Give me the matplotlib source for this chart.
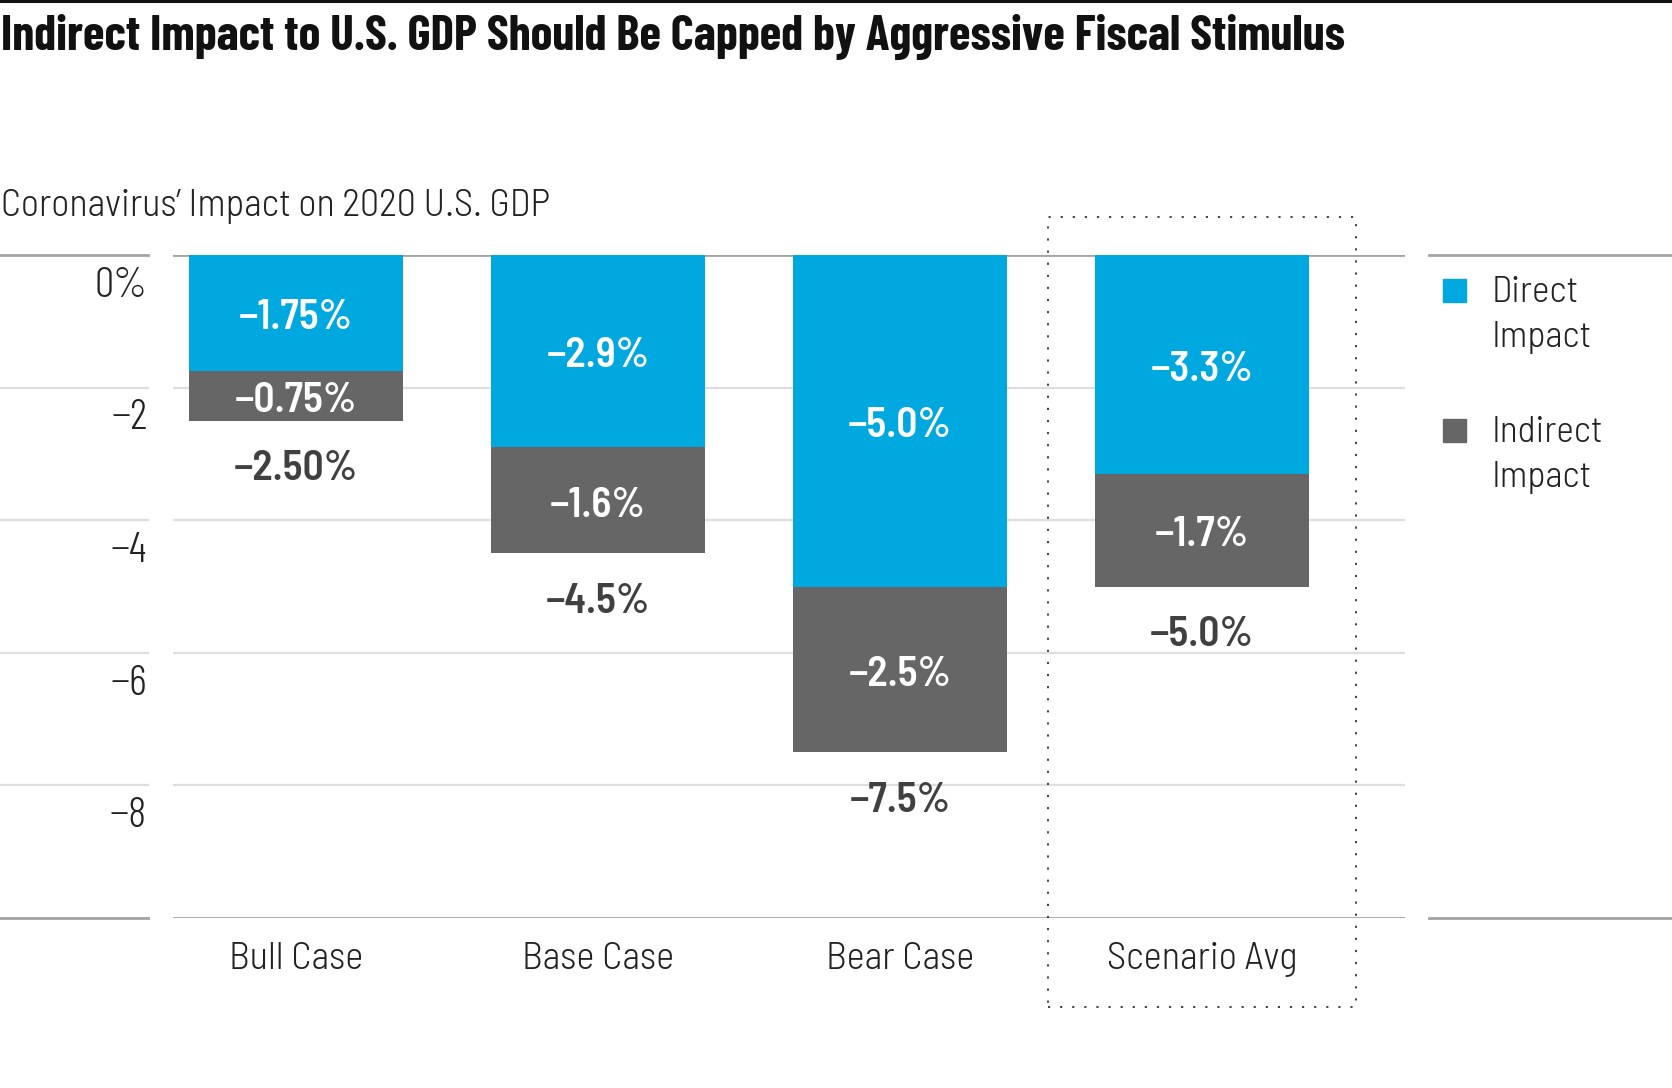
import matplotlib
matplotlib.use("Agg")
import matplotlib.pyplot as plt
from matplotlib.lines import Line2D
from matplotlib.patches import Rectangle

# data
categories = ["Bull Case", "Base Case", "Bear Case", "Scenario Avg"]
direct = [-1.75, -2.9, -5.0, -3.3]
indirect = [-0.75, -1.6, -2.5, -1.7]
totals = [-2.50, -4.5, -7.5, -5.0]
decimals = [2, 1, 1, 1]
y_ticks = [0, -2, -4, -6, -8]
y_tick_labels = ["0%", "\u22122", "\u22124", "\u22126", "\u22128"]
legend_labels = ["Direct\nImpact", "Indirect\nImpact"]

title = "Indirect Impact to U.S. GDP Should Be Capped by Aggressive Fiscal Stimulus"
subtitle = "Coronavirus\u2019 Impact on 2020 U.S. GDP"

BLUE = "#00a8e0"
GREY = "#666666"
GRID = "#dedede"
RULE = "#a3a3a3"
TEXT = "#222222"
TOTAL = "#404040"

COND = ["Barlow Condensed", "DejaVu Sans"]
SEMI = ["Barlow Semi Condensed", "Barlow Condensed", "DejaVu Sans"]
plt.rcParams["font.family"] = COND
LIGHT = 300

W, H = 1672, 1088
fig = plt.figure(figsize=(W / 100, H / 100), dpi=100)

# axes box in pixels: x 173..1405, y 255..918 (from top)
ax = fig.add_axes([173 / W, 1 - 918 / H, (1405 - 173) / W, (918 - 255) / H])
ax.set_xlim(-0.407, 3.672)
ax.set_ylim(-10, 0)
ax.axis("off")

x = range(len(categories))
ax.bar(x, direct, width=0.706, color=BLUE, zorder=3)
ax.bar(x, indirect, bottom=direct, width=0.706, color=GREY, zorder=3)

# grid lines, split into segments like the original
left_seg = (-0.1404, -0.0203)
legend_seg = (1.0195, 1.2167)
for v in y_ticks[1:]:
    ax.axhline(v, color=GRID, lw=1.6, zorder=1)
    ax.axhline(v, *left_seg, color=GRID, lw=1.6, clip_on=False, zorder=1)
for v in (0, -10):
    ax.axhline(v, color=RULE, lw=2.0, zorder=1)
    ax.axhline(v, *left_seg, color=RULE, lw=2.0, clip_on=False, zorder=1)
    ax.axhline(v, *legend_seg, color=RULE, lw=2.0, clip_on=False, zorder=1)

# y tick labels sit under their lines
ytrans = ax.get_yaxis_transform()
for v, lab in zip(y_ticks, y_tick_labels):
    ax.text(-0.0211, v - 0.63, lab, transform=ytrans, ha="right", va="baseline",
            fontsize=31, fontweight=LIGHT, color=TEXT)

# category labels
xtrans = ax.get_xaxis_transform()
for i, cat in enumerate(categories):
    ax.text(i, -0.077, cat, transform=xtrans, ha="center", va="baseline",
            fontsize=27.7, fontweight=LIGHT, family=SEMI, color=TEXT)

def fmt(v, d):
    return "\u2212" + f"{abs(v):.{d}f}%"

lab_kw = dict(ha="center", fontsize=30, fontweight="semibold", family=SEMI, zorder=4)
for i in x:
    d = decimals[i]
    ax.text(i, direct[i] / 2 - 0.08, fmt(direct[i], d), va="center",
            color="white", **lab_kw)
    ax.text(i, direct[i] + indirect[i] / 2 - 0.08, fmt(indirect[i], d),
            va="center", color="white", **lab_kw)
    ax.text(i, totals[i] - 0.9, fmt(totals[i], d), va="baseline",
            color=TOTAL, **lab_kw)

# dotted box round the scenario average
ax.add_patch(Rectangle((2.49, -11.34), 1.02, 11.91, fill=False, ec="#333333",
                       lw=1.3, ls=(0, (1.2, 5.5)), clip_on=False, zorder=2))

# title, subtitle, top rule
fig.add_artist(Line2D([0, 1], [1 - 1.2 / H] * 2, color="#111111", lw=2.2))
fig.text(1 / W, 1 - 50 / H, title, ha="left", va="baseline", fontsize=35.5,
         fontweight="bold", color="#111111")
fig.text(1 / W, 1 - 216 / H, subtitle, ha="left", va="baseline", fontsize=27.5,
         fontweight=LIGHT, family=SEMI, color=TEXT)

# legend drawn by hand
for lab, col, base in zip(legend_labels, [BLUE, GREY], [302, 442]):
    fig.add_artist(Rectangle((1443 / W, 1 - base / H), 23 / W, 23 / H,
                             color=col, transform=fig.transFigure))
    first, second = lab.split("\n")
    for k, part in enumerate((first, second)):
        fig.text(1492 / W, 1 - (base + 45 * k) / H, part, ha="left", va="baseline",
                 fontsize=27, fontweight=LIGHT, family=SEMI, color=TEXT)

fig.savefig("out.png", dpi=100)
